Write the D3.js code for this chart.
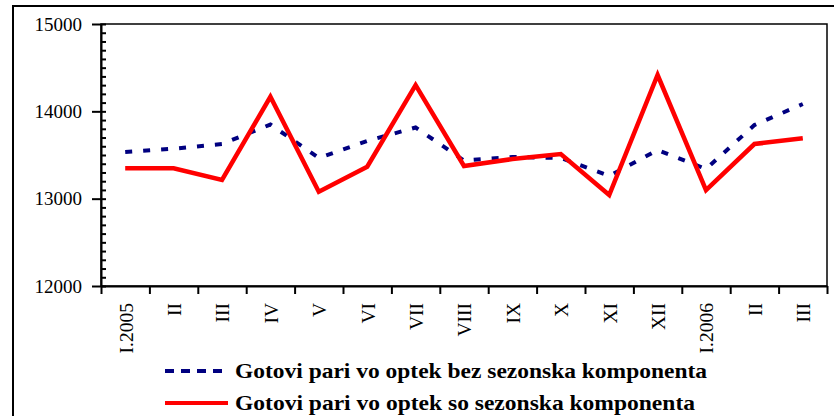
<!DOCTYPE html>
<html>
<head>
<meta charset="utf-8">
<script src="https://cdn.jsdelivr.net/npm/d3@7"></script>
<style>
  body { margin: 0; background: #fff; }
  svg { display: block; }
  .serif { font-family: "Liberation Serif", "Times New Roman", serif; }
</style>
</head>
<body>
<div id="chart"></div>
<script>
// kategorii (meseci)
const months = ['I.2005', 'II', 'III', 'IV', 'V', 'VI', 'VII', 'VIII', 'IX', 'X', 'XI', 'XII', 'I.2006', 'II', 'III'];
// bez sezonska komponenta
const seasAdj = [13534, 13572, 13626, 13849, 13466, 13660, 13815, 13437, 13477, 13466, 13260, 13557, 13340, 13843, 14084];
// so sezonska komponenta
const withSeas = [13348, 13348, 13214, 14167, 13080, 13366, 14301, 13374, 13454, 13511, 13042, 14416, 13099, 13626, 13691];
const yTicks = [12000, 13000, 14000, 15000];
const legendLabels = ['Gotovi pari vo optek bez sezonska komponenta', 'Gotovi pari vo optek so sezonska komponenta'];

const width = 834, height = 416;
const margin = { top: 24, right: 7, bottom: 130, left: 101 };

const svg = d3.select('#chart')
    .append('svg')
    .attr('width', width)
    .attr('height', height);

// nadvoresna ramka
svg.append('rect')
    .attr('x', 13).attr('y', 6)
    .attr('width', 840).attr('height', 430)
    .attr('fill', 'none').attr('stroke', '#000').attr('stroke-width', 2);

const x0 = margin.left, x1 = width - margin.right;
const y0 = height - margin.bottom, y1 = margin.top;

const keys = d3.range(months.length);
const xScale = d3.scaleBand().domain(keys).range([x0, x1]).padding(0);
const xEdges = d3.scaleLinear().domain([0, months.length]).range([x0, x1]);
const yScale = d3.scaleLinear().domain([12000, 15000]).range([y0, y1]);

// ramka na grafikot
svg.append('rect')
    .attr('x', x0).attr('y', y1)
    .attr('width', x1 - x0).attr('height', y0 - y1)
    .attr('fill', 'none').attr('stroke', '#000').attr('stroke-width', 1.5);

// y oska - glavni podelci
svg.append('g')
    .attr('transform', `translate(${x0},0)`)
    .call(d3.axisLeft(yScale).tickValues(yTicks).tickSize(9).tickSizeOuter(0).tickPadding(10).tickFormat(d3.format('d')))
    .call(g => g.select('.domain').attr('stroke-width', 2))
    .call(g => g.selectAll('.tick line').attr('stroke-width', 2))
    .call(g => g.selectAll('text')
        .attr('class', 'serif')
        .style('font-size', '19px').attr('fill', '#000'));

// sporedni podelci navnatre
svg.append('g')
    .attr('transform', `translate(${x0},0)`)
    .call(d3.axisRight(yScale).tickValues(d3.range(12000, 15001, 100)).tickSize(5).tickSizeOuter(0).tickFormat(''))
    .call(g => g.select('.domain').remove())
    .call(g => g.selectAll('.tick line').attr('stroke', '#000').attr('stroke-width', 2));

// x oska - podelci na granicite
svg.append('g')
    .attr('transform', `translate(0,${y0})`)
    .call(d3.axisBottom(xEdges).tickValues(d3.range(0, months.length + 1)).tickSize(8).tickSizeOuter(0).tickFormat(''))
    .call(g => g.select('.domain').attr('stroke-width', 2))
    .call(g => g.selectAll('.tick line').attr('stroke-width', 2));

// x oska - natpisi
svg.append('g')
    .attr('transform', `translate(0,${y0})`)
    .call(d3.axisBottom(d3.scalePoint().domain(keys).range([x0 + xScale.bandwidth() / 2, x1 - xScale.bandwidth() / 2]))
        .tickSize(0).tickFormat(i => months[i]))
    .call(g => g.select('.domain').remove())
    .call(g => g.selectAll('text')
        .attr('class', 'serif')
        .attr('transform', 'rotate(-90)')
        .attr('text-anchor', 'end')
        .attr('x', -17).attr('y', 0).attr('dy', '0.35em')
        .style('font-size', '19.5px').attr('fill', '#000'));

const line = d3.line()
    .x((d, i) => xScale(i) + xScale.bandwidth() / 2)
    .y(d => yScale(d));

svg.append('path')
    .datum(seasAdj)
    .attr('d', line)
    .attr('fill', 'none')
    .attr('stroke', '#000080')
    .attr('stroke-width', 4)
    .attr('stroke-dasharray', '7,11');

svg.append('path')
    .datum(withSeas)
    .attr('d', line)
    .attr('fill', 'none')
    .attr('stroke', '#ff0000')
    .attr('stroke-width', 4.5)
    .attr('stroke-linejoin', 'miter');

// legenda
const legend = svg.append('g');
const legendRows = [
    { label: legendLabels[0], color: '#000080', dash: '9,7', y: 371, len: 472 },
    { label: legendLabels[1], color: '#ff0000', dash: null, y: 403, len: 460 }
];
legendRows.forEach(r => {
    legend.append('line')
        .attr('x1', 165).attr('x2', 228)
        .attr('y1', r.y).attr('y2', r.y)
        .attr('stroke', r.color)
        .attr('stroke-width', 4)
        .attr('stroke-dasharray', r.dash);
    legend.append('text')
        .attr('class', 'serif')
        .attr('x', 235).attr('y', r.y + 7)
        .style('font-weight', 'bold')
        .style('font-size', '22px')
        .attr('textLength', r.len)
        .attr('lengthAdjust', 'spacingAndGlyphs')
        .text(r.label);
});
</script>
</body>
</html>
